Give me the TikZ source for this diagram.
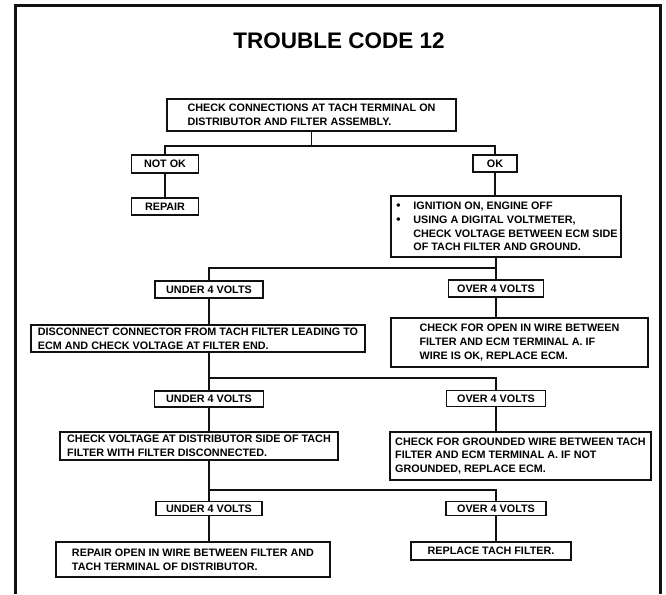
\documentclass[tikz,border=0pt]{standalone}
\usepackage{fontspec}
\setmainfont{Liberation Sans}
\usetikzlibrary{positioning,calc}
\definecolor{inkblack}{HTML}{111111}

\tikzset{
  stepbox/.style={draw=inkblack, line width=1.9pt, inner sep=0pt, align=left,
    font=\fontsize{10.8}{13.8}\selectfont\bfseries},
  answerbox/.style={draw=inkblack, line width=1.9pt, inner sep=0pt, minimum height=16pt,
    font=\fontsize{10.8}{12}\selectfont\bfseries},
  wire/.style={draw=inkblack, line width=1.4pt},
}
\newcommand{\dotitem}{\makebox[19pt][l]{\hspace*{2pt}\large\textbullet}}

\begin{document}
\begin{tikzpicture}[x=1pt,y=-1pt]
\useasboundingbox (0,0) rectangle (666,594);

% Frame and title
\draw[inkblack, line width=3pt] (15,594) -- (15,6) -- (660,6) -- (660,594);
\node[font=\fontsize{22.5}{26}\selectfont\bfseries] (title) at (339,40.5) {TROUBLE CODE 12};

% Step 1
\node[stepbox, minimum width=289pt, minimum height=32pt] (check) at (311.5,115) {CHECK CONNECTIONS AT TACH TERMINAL ON\\DISTRIBUTOR AND FILTER ASSEMBLY.};
\node[answerbox, minimum width=67pt, minimum height=18pt] (notok) at (165,164) {NOT OK};
\node[answerbox, minimum width=44pt, minimum height=17pt] (ok) at (495,163.5) {OK};
\coordinate (split1) at (311.5,146);
\draw[wire] (check.south) -- (split1);
\draw[wire] (notok.north) |- (split1) -| (ok.north);

% NOT OK branch
\node[answerbox, minimum width=67pt, minimum height=17pt] (repair) at (165,206.5) {REPAIR};
\draw[wire] (notok) -- (repair);

% OK branch
\node[stepbox, minimum width=230pt, minimum height=61pt] (ignition) at (506,226.5) {\dotitem IGNITION ON, ENGINE OFF\\
\dotitem USING A DIGITAL VOLTMETER,\\
\hspace*{19pt}CHECK VOLTAGE BETWEEN ECM SIDE\\
\hspace*{19pt}OF TACH FILTER AND GROUND.};
\draw[wire] (ok.south) -- (ok.south |- ignition.north);

% Step 2
\node[answerbox, minimum width=108pt, minimum height=17pt] (under1) at (209,289.5) {UNDER 4 VOLTS};
\node[answerbox, minimum width=95pt, minimum height=17pt] (over1) at (496,288.5) {OVER 4 VOLTS};
\coordinate (split2) at (496,268);
\draw[wire] (ignition.south -| split2) -- (split2);
\draw[wire] (under1.north) |- (split2) -- (over1.north);
\node[stepbox, minimum width=334pt, minimum height=27pt] (disconnect) at (198,338.5) {DISCONNECT CONNECTOR FROM TACH FILTER LEADING TO\\ECM AND CHECK VOLTAGE AT FILTER END.};
\node[stepbox, minimum width=257pt, minimum height=49pt] (openwire) at (519.5,342.5) {CHECK FOR OPEN IN WIRE BETWEEN\\FILTER AND ECM TERMINAL A. IF\\WIRE IS OK, REPLACE ECM.};
\draw[wire] (under1) -- (under1 |- disconnect.north);
\draw[wire] (over1) -- (over1 |- openwire.north);

% Step 3
\node[answerbox, minimum width=109pt] (under2) at (209,399) {UNDER 4 VOLTS};
\node[answerbox, minimum width=99pt] (over2) at (496,398.5) {OVER 4 VOLTS};
\coordinate (split3) at (496,378);
\draw[wire] (disconnect.south -| under2.north) -- (under2.north);
\draw[wire] (under2.north |- split3) -- (split3) -- (over2.north);
\node[stepbox, minimum width=278pt, minimum height=28pt] (distside) at (199,446) {CHECK VOLTAGE AT DISTRIBUTOR SIDE OF TACH\\FILTER WITH FILTER DISCONNECTED.};
\node[stepbox, minimum width=261pt, minimum height=48pt] (grounded) at (520.5,456) {CHECK FOR GROUNDED WIRE BETWEEN TACH\\FILTER AND ECM TERMINAL A. IF NOT\\GROUNDED, REPLACE ECM.};
\draw[wire] (under2) -- (under2 |- distside.north);
\draw[wire] (over2) -- (over2 |- grounded.north);

% Step 4
\node[answerbox, minimum width=106pt, minimum height=14pt] (under3) at (209,508.5) {UNDER 4 VOLTS};
\node[answerbox, minimum width=100pt, minimum height=14pt] (over3) at (496,508.5) {OVER 4 VOLTS};
\coordinate (split4) at (496,490);
\draw[wire] (distside.south -| under3.north) -- (under3.north);
\draw[wire] (under3.north |- split4) -- (split4) -- (over3.north);
\node[stepbox, minimum width=274pt, minimum height=35pt] (openrepair) at (193,559.5) {REPAIR OPEN IN WIRE BETWEEN FILTER AND\\TACH TERMINAL OF DISTRIBUTOR.};
\node[stepbox, minimum width=160pt, minimum height=18pt] (filter) at (491,551) {REPLACE TACH FILTER.};
\draw[wire] (under3) -- (under3 |- openrepair.north);
\draw[wire] (over3) -- (over3 |- filter.north);
\end{tikzpicture}
\end{document}
